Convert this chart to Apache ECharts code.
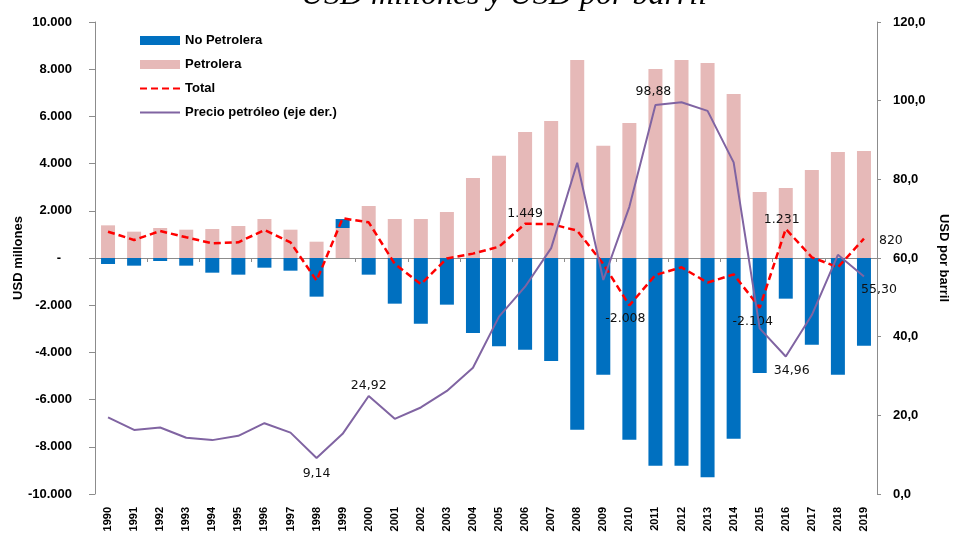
<!DOCTYPE html>
<html>
<head>
<meta charset="utf-8">
<script src="https://cdn.jsdelivr.net/npm/echarts@6/dist/echarts.min.js"></script>
<style>
  html, body { margin: 0; padding: 0; background: #fff; }
  #main { width: 954px; height: 534px; }
</style>
</head>
<body>
<div id="main"></div>
<script>
// datos
const years = ['1990','1991','1992','1993','1994','1995','1996','1997','1998','1999',
  '2000','2001','2002','2003','2004','2005','2006','2007','2008','2009',
  '2010','2011','2012','2013','2014','2015','2016','2017','2018','2019'];
const petrolera = [1384,1116,1271,1200,1229,1356,1653,1200,691,1271,
  2203,1653,1653,1949,3390,4335,5339,5805,8390,4760,
  5720,8008,8390,8263,6949,2797,2966,3729,4492,4534];
const noPetrolera = [-254,-325,-127,-325,-622,-706,-410,-537,-1638,380,
  -706,-1935,-2783,-1977,-3178,-3743,-3890,-4364,-7274,-4944,
  -7698,-8799,-8799,-9294,-7655,-4873,-1723,-3672,-4944,-3715];
const total = [1115,763,1144,876,621,664,1186,664,-960,1681,
  1511,-250,-1110,-20,186,480,1449,1441,1158,-250,
  -2008,-720,-395,-1045,-692,-2104,1231,30,-394,820];
const precio = [19.5,16.3,16.9,14.3,13.7,14.8,18.0,15.6,9.14,15.3,
  24.92,19.1,22.0,26.2,32.1,45.1,52.7,62.5,84.2,54.4,
  73.0,98.88,99.6,97.4,84.3,42.1,34.96,45.5,60.8,55.30];

// etiquetas visibles: indice -> [posicion, distancia, offset]
const totalLabels = {16:['top',4,[0,0]], 20:['bottom',7,[-4,0]], 25:['bottom',8,[-7,0]], 26:['top',3,[-4,0]], 29:['right',15,[0,2]]};
const precioLabels = {8:['bottom',9,[0,0]], 10:['top',4,[0,0]], 21:['top',7,[-2,0]], 26:['bottom',8,[6,0]], 29:['bottom',7,[15,0]]};

function miles(v){
  var s = Math.abs(Math.round(v)).toString().replace(/\B(?=(\d{3})+(?!\d))/g, '.');
  return (v < 0 ? '-' : '') + s;
}
function decimal(v, n){
  return v.toFixed(n).replace('.', ',');
}
function withLabels(values, labels, fmt){
  return values.map(function(v, i){
    var l = labels[i];
    if(!l) return v;
    return {
      value: v,
      label: {
        show: true, position: l[0], distance: l[1], offset: l[2],
        formatter: fmt(v), color: '#111', fontFamily: 'DejaVu Sans', fontSize: 12.5
      }
    };
  });
}

var chartDom = document.getElementById('main');
var myChart = echarts.init(chartDom);
var axisColor = '#8c8c8c';
var boldText = { color: '#000', fontWeight: 'bold', fontFamily: 'Liberation Sans', fontSize: 13 };

var option = {
  animation: false,
  graphic: [{
    type: 'text', x: 504, y: -20,
    style: {
      text: 'USD millones y USD por barril',
      font: 'italic 32px "Liberation Serif"',
      fill: '#000', textAlign: 'center', textVerticalAlign: 'top'
    }
  }],
  grid: { left: 95, right: 77, top: 22, bottom: 40, containLabel: false, outerBoundsMode: 'none' },
  legend: {
    orient: 'vertical', left: 134, top: 29,
    itemWidth: 40, itemHeight: 9, itemGap: 11,
    textStyle: { color: '#000', fontWeight: 'bold', fontFamily: 'Liberation Sans', fontSize: 13 },
    data: [
      { name: 'No Petrolera', icon: 'rect' },
      { name: 'Petrolera', icon: 'rect' },
      { name: 'Total', itemStyle: { opacity: 0 } },
      { name: 'Precio petróleo (eje der.)', itemStyle: { opacity: 0 } }
    ]
  },
  xAxis: [
    {
      type: 'category', data: years, position: 'bottom',
      axisLine: { show: false, onZero: false },
      axisTick: { show: false },
      axisLabel: { rotate: 90, interval: 0, margin: 13, fontSize: 11, color: '#000', fontWeight: 'bold', fontFamily: 'Liberation Sans' }
    },
    {
      type: 'category', data: years, position: 'top',
      axisLine: { show: true, onZero: true, onZeroAxisIndex: 0, lineStyle: { color: axisColor, width: 1 } },
      axisTick: { show: true, inside: true, length: 4, lineStyle: { color: axisColor } },
      axisLabel: { show: false }
    }
  ],
  yAxis: [
    {
      type: 'value', min: -10000, max: 10000, interval: 2000,
      name: 'USD millones', nameLocation: 'middle', nameGap: 70, nameRotate: 90, nameMoveOverlap: false,
      nameTextStyle: boldText,
      axisLine: { show: true, lineStyle: { color: axisColor } },
      axisTick: { show: true, length: 6, lineStyle: { color: axisColor } },
      splitLine: { show: false },
      axisLabel: Object.assign({ margin: 23, formatter: function(v){ return v === 0 ? '-   ' : miles(v); } }, boldText)
    },
    {
      type: 'value', min: 0, max: 120, interval: 20,
      name: 'USD por barril', nameLocation: 'middle', nameGap: 60, nameRotate: -90,
      nameTextStyle: boldText,
      axisLine: { show: true, lineStyle: { color: axisColor } },
      axisTick: { show: true, length: 4, lineStyle: { color: axisColor } },
      splitLine: { show: false },
      axisLabel: Object.assign({ margin: 16, formatter: function(v){ return decimal(v, 1); } }, boldText)
    }
  ],
  series: [
    {
      name: 'Petrolera', type: 'bar', stack: 'bal', barWidth: 14,
      itemStyle: { color: '#E6B9B8' },
      data: petrolera
    },
    {
      name: 'No Petrolera', type: 'bar', stack: 'bal', barWidth: 14,
      itemStyle: { color: '#0070C0' },
      data: noPetrolera
    },
    {
      name: 'Total', type: 'line', symbol: 'circle', symbolSize: 0, showSymbol: true, z: 3,
      lineStyle: { color: '#FF0000', width: 2.5, type: [7, 4] },
      itemStyle: { color: '#FF0000' },
      data: withLabels(total, totalLabels, miles)
    },
    {
      name: 'Precio petróleo (eje der.)', type: 'line', yAxisIndex: 1,
      symbol: 'circle', symbolSize: 0, showSymbol: true, z: 4,
      lineStyle: { color: '#8064A2', width: 2 },
      itemStyle: { color: '#8064A2' },
      data: withLabels(precio, precioLabels, function(v){ return decimal(v, 2); })
    }
  ]
};
myChart.setOption(option);
</script>
</body>
</html>
